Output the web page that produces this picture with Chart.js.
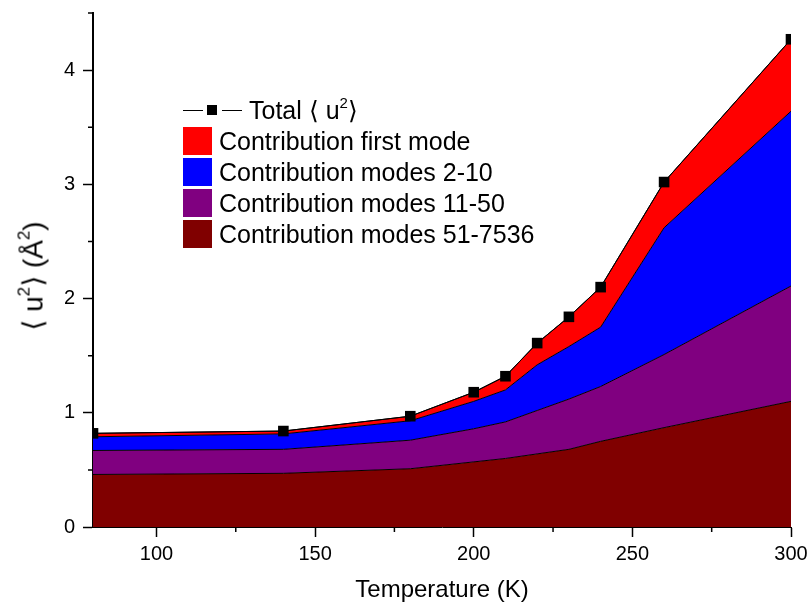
<!DOCTYPE html>
<html>
<head>
<meta charset="utf-8">
<title>Mean square displacement</title>
<script src="https://cdn.jsdelivr.net/npm/chart.js@4.4.1/dist/chart.umd.min.js"></script>
<style>
    html, body { margin: 0; padding: 0; background: #fff; }
    #wrap { position: relative; width: 811px; height: 605px; font-family: 'Liberation Sans', Arial, sans-serif; color: #000; }
    #chart { position: absolute; left: 0; top: 0; }
    sup { font-size: 0.6em; line-height: 0; vertical-align: 0.75em; }
    .legend-row { position: absolute; left: 183px; height: 30px; display: flex; align-items: center; font-size: 25px; white-space: nowrap; }
    .swatch { width: 29px; height: 28px; margin-right: 7px; flex: none; }
    .line-sym { position: relative; width: 59px; height: 30px; margin-right: 7px; flex: none; }
    .line-sym .dash { position: absolute; top: 15px; height: 1px; width: 20px; background: #000; }
    .line-sym .mark { position: absolute; top: 10px; left: 24px; width: 10px; height: 10px; background: #000; }
    #ytitle { position: absolute; left: 33px; top: 276px; transform: translate(-50%, -50%) rotate(-90deg); font-size: 28px; white-space: nowrap; }
</style>
</head>
<body>
<div id="wrap">
    <canvas id="chart" width="811" height="605"></canvas>
    <div id="ytitle">&#x27E8; u<sup>2</sup>&#x27E9; (&#xC5;<sup>2</sup>)</div>
    <div id="legend"></div>
</div>
<script>
// temperature (K)
const temps = [80, 140, 180, 200, 210, 220, 230, 240, 260, 300];

// total <u^2> and the stacked contributions (A^2)
const totalU2 = [0.82, 0.84, 0.97, 1.18, 1.32, 1.61, 1.84, 2.10, 3.02, 4.27];
const modes51to7536 = [0.46, 0.47, 0.51, 0.57, 0.60, 0.64, 0.68, 0.75, 0.87, 1.10];
const modes11to50 = [0.21, 0.21, 0.25, 0.29, 0.32, 0.38, 0.44, 0.48, 0.64, 1.01];
const modes2to10 = [0.12, 0.135, 0.17, 0.24, 0.28, 0.40, 0.46, 0.52, 1.11, 1.53];
const firstMode = [0.03, 0.025, 0.04, 0.08, 0.12, 0.19, 0.26, 0.35, 0.40, 0.63];

const xTicks = [100, 150, 200, 250, 300];
const xMinor = [125, 175, 225, 275];
const yTicks = [0, 1, 2, 3, 4];
const yMinor = [0.5, 1.5, 2.5, 3.5, 4.5];

const FONT = "'Liberation Sans', Arial, sans-serif";

function pts(vals) {
    return temps.map(function (t, i) { return { x: t, y: vals[i] }; });
}

function area(label, vals, color, fill) {
    return {
        label: label,
        data: pts(vals),
        stack: 'modes',
        backgroundColor: color,
        borderColor: '#000',
        borderWidth: 1,
        pointRadius: 0,
        fill: fill,
        tension: 0,
        clip: 0
    };
}

// short outward minor ticks, as in the original plot
const minorTicks = {
    id: 'minorTicks',
    afterDraw(chart) {
        const ctx = chart.ctx;
        const x = chart.scales.x;
        const y = chart.scales.y;
        ctx.save();
        ctx.strokeStyle = '#000';
        ctx.lineWidth = 1.5;
        ctx.beginPath();
        yMinor.forEach(function (v) {
            const py = y.getPixelForValue(v);
            ctx.moveTo(y.right - 5, py);
            ctx.lineTo(y.right, py);
        });
        xMinor.forEach(function (v) {
            const px = x.getPixelForValue(v);
            ctx.moveTo(px, x.top);
            ctx.lineTo(px, x.top + 5);
        });
        ctx.stroke();
        ctx.restore();
    }
};

const ctx = document.getElementById('chart').getContext('2d');
const chart = new Chart(ctx, {
    type: 'line',
    data: {
        datasets: [
            {
                label: 'Total \u27E8 u\u00B2\u27E9',
                data: pts(totalU2),
                stack: 'total',
                borderColor: '#000',
                borderWidth: 1,
                pointStyle: 'rect',
                pointRadius: 7.5,
                pointBackgroundColor: '#000',
                pointBorderWidth: 0,
                fill: false,
                tension: 0,
                clip: 0
            },
            area('Contribution modes 51-7536', modes51to7536, '#800000', 'origin'),
            area('Contribution modes 11-50', modes11to50, '#800080', '-1'),
            area('Contribution modes 2-10', modes2to10, '#0000FF', '-1'),
            area('Contribution first mode', firstMode, '#FF0000', '-1')
        ]
    },
    options: {
        responsive: false,
        animation: false,
        layout: { autoPadding: false, padding: { top: 13, right: 20, left: 0, bottom: 0 } },
        plugins: {
            legend: { display: false },
            tooltip: { enabled: false }
        },
        scales: {
            x: {
                type: 'linear',
                min: 80,
                max: 300,
                afterBuildTicks: function (s) { s.ticks = xTicks.map(function (v) { return { value: v }; }); },
                afterFit: function (s) { s.height = 78; s.paddingLeft = 0; s.paddingRight = 0; },
                border: { display: true, color: '#000', width: 1 },
                grid: { drawOnChartArea: false, tickLength: 10, tickColor: '#000', tickWidth: 1.5 },
                ticks: { color: '#000', font: { size: 20, family: FONT }, padding: 5, maxRotation: 0, autoSkip: false },
                title: { display: true, text: 'Temperature (K)', color: '#000', font: { size: 24, family: FONT }, padding: 0 }
            },
            y: {
                stacked: true,
                min: 0,
                max: 4.5,
                afterBuildTicks: function (s) { s.ticks = yTicks.map(function (v) { return { value: v }; }); },
                afterFit: function (s) { s.width = 93; s.paddingTop = 0; s.paddingBottom = 0; },
                border: { display: true, color: '#000', width: 2 },
                grid: { drawOnChartArea: false, tickLength: 10, tickColor: '#000', tickWidth: 1.5 },
                ticks: { color: '#000', font: { size: 20, family: FONT }, padding: 8 }
            }
        }
    },
    plugins: [minorTicks]
});

// legend in the same order as the original (top layer first)
const legendRows = [
    { text: 'Total \u27E8 u<sup>2</sup>\u27E9', line: true },
    { text: 'Contribution first mode', color: '#FF0000' },
    { text: 'Contribution modes 2-10', color: '#0000FF' },
    { text: 'Contribution modes 11-50', color: '#800080' },
    { text: 'Contribution modes 51-7536', color: '#800000' }
];
const legendTops = [95, 126, 157, 188, 219];
const legend = document.getElementById('legend');
legendRows.forEach(function (r, i) {
    const row = document.createElement('div');
    row.className = 'legend-row';
    row.style.top = legendTops[i] + 'px';
    if (r.line) {
        row.innerHTML = '<span class="line-sym"><span class="dash" style="left:0"></span>' +
            '<span class="mark"></span><span class="dash" style="left:39px"></span></span>' +
            '<span>' + r.text + '</span>';
    } else {
        row.innerHTML = '<span class="swatch" style="background:' + r.color + '"></span><span>' + r.text + '</span>';
    }
    legend.appendChild(row);
});
</script>
</body>
</html>
